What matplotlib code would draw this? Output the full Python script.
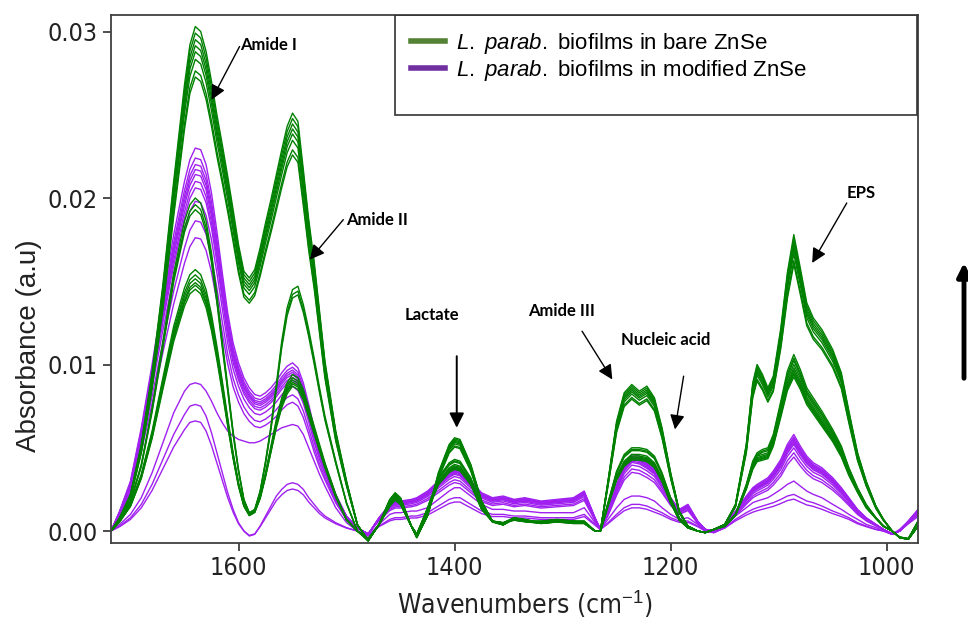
import numpy as np
import matplotlib
matplotlib.use('Agg')
import matplotlib.pyplot as plt
from matplotlib.patches import Rectangle, FancyArrowPatch
from matplotlib.lines import Line2D

# wavenumber grid (cm-1)
wavenumbers = [1718, 1710, 1700, 1690, 1680, 1670, 1660, 1650, 1645, 1640,
               1635, 1630, 1625, 1620, 1615, 1610, 1605, 1600, 1595, 1590,
               1585, 1580, 1575, 1570, 1565, 1560, 1555, 1550, 1545, 1540,
               1535, 1530, 1525, 1520, 1510, 1500, 1490, 1480, 1470, 1460,
               1455, 1450, 1440, 1435, 1425, 1415, 1405, 1400, 1395, 1385,
               1375, 1365, 1355, 1345, 1335, 1320, 1305, 1290, 1280, 1270,
               1265, 1258, 1250, 1243, 1236, 1229, 1222, 1215, 1208, 1200,
               1192, 1184, 1175, 1168, 1160, 1150, 1140, 1130, 1124, 1120,
               1115, 1110, 1105, 1098, 1092, 1086, 1080, 1074, 1068, 1060,
               1050, 1042, 1035, 1027, 1019, 1010, 1003, 995, 988, 980,
               971]

# bare ZnSe, strongest spectra
bare_high = [0.0000, 0.0008, 0.0022, 0.0052, 0.0095, 0.0148, 0.0210, 0.0268, 0.0292, 0.0303,
             0.0300, 0.0288, 0.0270, 0.0250, 0.0232, 0.0213, 0.0193, 0.0172, 0.0156, 0.0152,
             0.0157, 0.0170, 0.0185, 0.0199, 0.0214, 0.0229, 0.0243, 0.0251, 0.0246, 0.0217,
             0.0187, 0.0162, 0.0132, 0.0102, 0.0060, 0.0030, 0.0004, -0.0006, 0.0004, 0.0019,
             0.0023, 0.0020, 0.0003, -0.0004, 0.0010, 0.0035, 0.0052, 0.0056, 0.0055, 0.0040,
             0.0018, 0.0006, 0.0004, 0.0008, 0.0007, 0.0005, 0.0006, 0.0005, 0.0005, 0.0000,
             0.0000, 0.0030, 0.0066, 0.0083, 0.0088, 0.0084, 0.0087, 0.0080, 0.0062, 0.0035,
             0.0012, 0.0003, 0.0000, -0.0001, 0.0001, 0.0004, 0.0016, 0.0052, 0.0089, 0.0100,
             0.0094, 0.0086, 0.0093, 0.0122, 0.0155, 0.0178, 0.0158, 0.0137, 0.0128, 0.0121,
             0.0109, 0.0095, 0.0072, 0.0047, 0.0030, 0.0015, 0.0007, 0.0000, -0.0004, -0.0005,
             0.0006]
bare_high_k = [1.0, 0.987, 0.974, 0.962, 0.950, 0.935, 0.912, 0.90]

# bare ZnSe, middle spectra
bare_mid = [0.0000, 0.0007, 0.0018, 0.0040, 0.0074, 0.0114, 0.0155, 0.0186, 0.0196, 0.0200,
            0.0197, 0.0186, 0.0167, 0.0142, 0.0114, 0.0087, 0.0060, 0.0037, 0.0019, 0.0011,
            0.0013, 0.0024, 0.0042, 0.0063, 0.0088, 0.0114, 0.0134, 0.0145, 0.0147, 0.0136,
            0.0121, 0.0104, 0.0086, 0.0069, 0.0042, 0.0017, 0.0000, -0.0006, 0.0004, 0.0017,
            0.0021, 0.0018, 0.0003, -0.0002, 0.0014, 0.0032, 0.0041, 0.0043, 0.0042, 0.0032,
            0.0015, 0.0006, 0.0005, 0.0008, 0.0006, 0.0006, 0.0007, 0.0006, 0.0006, 0.0000,
            0.0000, 0.0017, 0.0036, 0.0046, 0.0050, 0.0050, 0.0049, 0.0045, 0.0035, 0.0020,
            0.0008, 0.0002, 0.0000, -0.0001, 0.0001, 0.0003, 0.0010, 0.0028, 0.0042, 0.0047,
            0.0049, 0.0050, 0.0058, 0.0078, 0.0096, 0.0106, 0.0097, 0.0086, 0.0080, 0.0072,
            0.0061, 0.0051, 0.0038, 0.0026, 0.0016, 0.0008, 0.0003, 0.0000, -0.0004, -0.0005,
            0.0003]
bare_mid_k = [1.0, 0.98, 0.965]

# bare ZnSe, weaker spectra
bare_low = [0.0000, 0.0006, 0.0016, 0.0034, 0.0060, 0.0092, 0.0123, 0.0146, 0.0154, 0.0157,
            0.0154, 0.0145, 0.0130, 0.0111, 0.0090, 0.0068, 0.0047, 0.0029, 0.0016, 0.0010,
            0.0012, 0.0021, 0.0035, 0.0051, 0.0067, 0.0080, 0.0089, 0.0094, 0.0092, 0.0085,
            0.0074, 0.0063, 0.0052, 0.0041, 0.0022, 0.0007, 0.0000, -0.0005, 0.0004, 0.0016,
            0.0020, 0.0017, 0.0003, -0.0002, 0.0013, 0.0030, 0.0038, 0.0040, 0.0039, 0.0030,
            0.0014, 0.0006, 0.0005, 0.0007, 0.0006, 0.0005, 0.0006, 0.0006, 0.0005, 0.0000,
            0.0000, 0.0016, 0.0033, 0.0042, 0.0046, 0.0046, 0.0045, 0.0041, 0.0032, 0.0018,
            0.0007, 0.0002, 0.0000, -0.0001, 0.0001, 0.0003, 0.0010, 0.0027, 0.0040, 0.0045,
            0.0046, 0.0047, 0.0055, 0.0074, 0.0091, 0.0100, 0.0092, 0.0082, 0.0076, 0.0068,
            0.0058, 0.0048, 0.0036, 0.0025, 0.0015, 0.0008, 0.0003, 0.0000, -0.0004, -0.0005,
            0.0003]
bare_low_k = [1.0, 0.98, 0.965, 0.95, 0.94, 0.925]

# modified ZnSe, main group
mod_high = [0.0000, 0.0012, 0.0030, 0.0062, 0.0100, 0.0140, 0.0178, 0.0210, 0.0223, 0.0230,
            0.0229, 0.0220, 0.0203, 0.0180, 0.0155, 0.0131, 0.0113, 0.0101, 0.0092, 0.0086,
            0.0082, 0.0081, 0.0083, 0.0086, 0.0090, 0.0095, 0.0099, 0.0101, 0.0098, 0.0089,
            0.0076, 0.0062, 0.0050, 0.0040, 0.0022, 0.0009, 0.0002, -0.0002, 0.0008, 0.0016,
            0.0018, 0.0018, 0.0019, 0.0020, 0.0024, 0.0030, 0.0036, 0.0038, 0.0037, 0.0030,
            0.0023, 0.0020, 0.0021, 0.0019, 0.0020, 0.0018, 0.0019, 0.0020, 0.0024, 0.0008,
            0.0001, 0.0012, 0.0028, 0.0040, 0.0046, 0.0045, 0.0042, 0.0038, 0.0030, 0.0020,
            0.0013, 0.0016, 0.0006, 0.0001, 0.0000, 0.0004, 0.0012, 0.0021, 0.0026, 0.0028,
            0.0030, 0.0032, 0.0036, 0.0043, 0.0052, 0.0058, 0.0051, 0.0045, 0.0041, 0.0038,
            0.0032, 0.0026, 0.0020, 0.0013, 0.0008, 0.0004, 0.0001, -0.0002, 0.0000, 0.0006,
            0.0013]
mod_high_k = [1.0, 0.974, 0.957, 0.944, 0.931, 0.913, 0.896, 0.861, 0.81, 0.766]

# modified ZnSe, weak spectrum keeping a shoulder at 1585
mod_shoulder = [0.0000, 0.0004, 0.0010, 0.0020, 0.0035, 0.0053, 0.0071, 0.0084, 0.0088, 0.0089,
                0.0088, 0.0084, 0.0078, 0.0071, 0.0065, 0.0060, 0.0057, 0.0055, 0.0054, 0.0053,
                0.0053, 0.0054, 0.0056, 0.0058, 0.0060, 0.0062, 0.0063, 0.0064, 0.0063, 0.0058,
                0.0050, 0.0042, 0.0034, 0.0027, 0.0014, 0.0005, 0.0000, -0.0003, 0.0004, 0.0010,
                0.0011, 0.0011, 0.0012, 0.0012, 0.0014, 0.0019, 0.0024, 0.0026, 0.0026, 0.0021,
                0.0016, 0.0013, 0.0013, 0.0012, 0.0012, 0.0011, 0.0011, 0.0011, 0.0014, 0.0005,
                0.0001, 0.0007, 0.0014, 0.0019, 0.0021, 0.0021, 0.0020, 0.0018, 0.0014, 0.0010,
                0.0007, 0.0008, 0.0004, 0.0000, -0.0001, 0.0002, 0.0009, 0.0014, 0.0017, 0.0018,
                0.0019, 0.0020, 0.0022, 0.0025, 0.0028, 0.0030, 0.0027, 0.0024, 0.0022, 0.0020,
                0.0016, 0.0013, 0.0010, 0.0007, 0.0004, 0.0002, 0.0000, -0.0002, 0.0001, 0.0006,
                0.0011]

# modified ZnSe, weakest spectra
mod_low = [0.0000, 0.0003, 0.0008, 0.0016, 0.0028, 0.0043, 0.0058, 0.0070, 0.0075, 0.0076,
           0.0075, 0.0069, 0.0059, 0.0047, 0.0035, 0.0023, 0.0013, 0.0005, 0.0000, -0.0003,
           -0.0002, 0.0003, 0.0009, 0.0015, 0.0021, 0.0025, 0.0028, 0.0029, 0.0028, 0.0025,
           0.0020, 0.0016, 0.0012, 0.0009, 0.0005, 0.0002, 0.0000, -0.0003, 0.0003, 0.0007,
           0.0008, 0.0008, 0.0009, 0.0009, 0.0011, 0.0015, 0.0019, 0.0020, 0.0020, 0.0016,
           0.0012, 0.0010, 0.0010, 0.0009, 0.0009, 0.0008, 0.0008, 0.0008, 0.0010, 0.0004,
           0.0001, 0.0005, 0.0010, 0.0014, 0.0016, 0.0016, 0.0015, 0.0013, 0.0011, 0.0008,
           0.0006, 0.0006, 0.0003, 0.0000, -0.0001, 0.0002, 0.0007, 0.0011, 0.0013, 0.0014,
           0.0015, 0.0016, 0.0017, 0.0019, 0.0021, 0.0022, 0.0020, 0.0018, 0.0017, 0.0015,
           0.0012, 0.0010, 0.0008, 0.0005, 0.0003, 0.0001, 0.0000, -0.0002, 0.0000, 0.0005,
           0.0010]
mod_low_k = [1.0, 0.87]

band_labels = ['Amide I', 'Amide II', 'Lactate', 'Amide III', 'Nucleic acid', 'EPS']
# text centre, arrow start and arrow tip, in data units
band_text = [(1572, 0.0292), (1472, 0.0187), (1421, 0.0130), (1301, 0.0132), (1205, 0.0115), (1024, 0.0203)]
band_start = [(1599, 0.0291), (1503, 0.0187), (1398, 0.0105), (1282, 0.0120), (1188, 0.0093), (1037, 0.0197)]
band_tips = [(1625, 0.0259), (1534, 0.0163), (1398, 0.0062), (1254, 0.0091), (1196, 0.0061), (1069, 0.0161)]

GREEN = '#008000'
PURPLE = '#a020f0'

plt.rcParams['mathtext.fontset'] = 'custom'
plt.rcParams['mathtext.it'] = 'Liberation Sans:italic'
plt.rcParams['mathtext.rm'] = 'Liberation Sans'

fig = plt.figure(figsize=(9.68, 6.21), dpi=100)
ax = fig.add_axes([0.1147, 0.1256, 0.8337, 0.8502])

x = np.array(wavenumbers)
for k in mod_high_k:
    ax.plot(x, np.array(mod_high) * k, color=PURPLE, lw=1.0)
ax.plot(x, mod_shoulder, color=PURPLE, lw=1.0)
for k in mod_low_k:
    ax.plot(x, np.array(mod_low) * k, color=PURPLE, lw=1.0)
for k in bare_low_k:
    ax.plot(x, np.array(bare_low) * k, color=GREEN, lw=1.0)
for k in bare_mid_k:
    ax.plot(x, np.array(bare_mid) * k, color=GREEN, lw=1.0)
for k in bare_high_k:
    ax.plot(x, np.array(bare_high) * k, color=GREEN, lw=1.0)

ax.set_xlim(1718, 971)
ax.set_ylim(-0.00072, 0.03099)
ax.set_xticks([1600, 1400, 1200, 1000])
ax.set_yticks([0.0, 0.01, 0.02, 0.03])
ax.set_yticklabels(['0.00', '0.01', '0.02', '0.03'])
for s in ax.spines.values():
    s.set_color('#404040')
    s.set_linewidth(1.3)
ax.tick_params(axis='both', direction='out', length=6, width=1.3, color='#404040',
               labelsize=18, labelcolor='#222222')
for lab in ax.get_xticklabels() + ax.get_yticklabels():
    lab.set_family('DejaVu Sans')
    lab.set_stretch('condensed')

ax.set_xlabel('Wavenumbers (cm$^{-1}$)', fontsize=19, family='DejaVu Sans',
              fontstretch='condensed', color='#222222')
ax.set_ylabel('Absorbance (a.u)', fontsize=20, family='Liberation Sans', color='#222222')
ax.xaxis.set_label_coords(0.513, -0.088)
ax.yaxis.set_label_coords(-0.085, 0.373)

for lab, t, s, tip in zip(band_labels, band_text, band_start, band_tips):
    ax.text(t[0], t[1], lab, fontsize=12, family='Lato', fontweight='bold',
            ha='center', va='center', color='black')
    lw = 1.4 if lab == 'Lactate' else 1.0
    ax.annotate('', xy=tip, xytext=s,
                arrowprops=dict(arrowstyle='-|>', mutation_scale=22, lw=lw, color='black',
                                shrinkA=0, shrinkB=0))

# legend box with empty space under the entries
ax.add_patch(Rectangle((0.352, 0.8106), 0.6468, 0.1894, transform=ax.transAxes,
                       fill=False, edgecolor='#333333', lw=1.2, zorder=5))
handles = [Line2D([], [], color='#548235', lw=4), Line2D([], [], color='#7030a0', lw=4)]
labels = [r'$\mathit{L.\ parab.}$ biofilms in bare ZnSe',
          r'$\mathit{L.\ parab.}$ biofilms in modified ZnSe']
ax.legend(handles, labels, loc='upper left', bbox_to_anchor=(0.353, 1.0), frameon=False,
          handlelength=1.5, handletextpad=0.5, labelspacing=0.12, borderaxespad=0.3,
          prop={'family': 'Liberation Sans', 'size': 16})

# arrow cut off at the right edge of the figure
fig.add_artist(FancyArrowPatch((964, 240), (964, 361), transform=None,
                               arrowstyle='-|>', mutation_scale=20, lw=3.5, color='black'))

fig.savefig('out.png', dpi=100)
